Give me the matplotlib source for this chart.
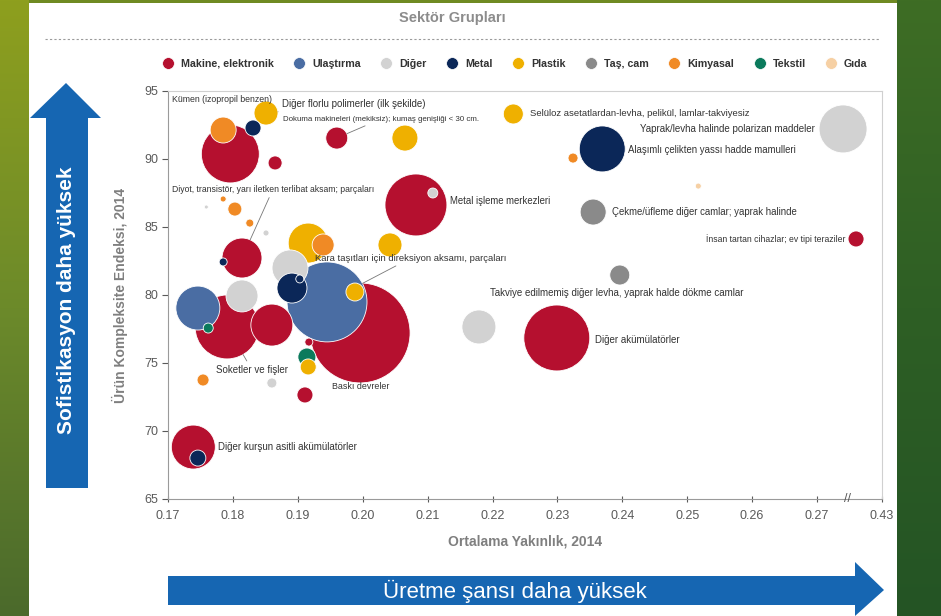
import matplotlib
matplotlib.use("Agg")
import matplotlib.pyplot as plt
import numpy as np
from matplotlib.lines import Line2D
from matplotlib.patches import Polygon, Rectangle

plt.rcParams['font.family'] = ['Liberation Sans', 'DejaVu Sans']

# sector groups and colours
sektorler = ["Makine, elektronik", "Ulaştırma", "Diğer", "Metal", "Plastik",
             "Taş, cam", "Kimyasal", "Tekstil", "Gıda"]
renkler = ["#b5102f", "#4a6da3", "#d2d2d2", "#0b2758", "#efb000",
           "#8a8a8a", "#f08a25", "#0b7a5c", "#f6d0a4"]

# products: sector, average proximity (x), complexity index (y), export volume (bubble area)
sektor = ["Makine, elektronik", "Kimyasal", "Metal", "Plastik", "Makine, elektronik",
          "Makine, elektronik", "Plastik", "Plastik", "Metal", "Kimyasal",
          "Diğer", "Gıda", "Taş, cam", "Makine, elektronik", "Makine, elektronik",
          "Diğer", "Diğer", "Kimyasal", "Kimyasal", "Kimyasal",
          "Diğer", "Makine, elektronik", "Metal", "Plastik", "Kimyasal",
          "Plastik", "Diğer", "Metal", "Metal", "Ulaştırma",
          "Makine, elektronik", "Ulaştırma", "Makine, elektronik", "Tekstil", "Diğer",
          "Makine, elektronik", "Plastik", "Makine, elektronik", "Tekstil", "Plastik",
          "Kimyasal", "Diğer", "Makine, elektronik", "Makine, elektronik", "Metal",
          "Diğer", "Makine, elektronik", "Taş, cam"]
yakinlik = [0.1796, 0.1785, 0.1831, 0.1851, 0.1865,
            0.1960, 0.2065, 0.2232, 0.2369, 0.2324,
            0.2740, 0.2517, 0.2355, 0.2760, 0.2082,
            0.2108, 0.1759, 0.1785, 0.1803, 0.1826,
            0.1851, 0.1814, 0.1785, 0.1916, 0.1939,
            0.2042, 0.1888, 0.1891, 0.1903, 0.1945,
            0.1996, 0.1746, 0.1791, 0.1762, 0.1814,
            0.1860, 0.1988, 0.1917, 0.1914, 0.1916,
            0.1754, 0.1860, 0.1911, 0.1739, 0.1746,
            0.2179, 0.2299, 0.2396]
kompleksite = [90.37, 92.13, 92.28, 93.38, 89.71,
               91.54, 91.54, 93.31, 90.74, 90.07,
               92.21, 88.01, 86.10, 84.12, 86.62,
               87.50, 86.47, 87.06, 86.32, 85.29,
               84.56, 82.72, 82.43, 83.82, 83.68,
               83.68, 81.99, 80.51, 81.18, 79.49,
               77.21, 79.04, 77.65, 77.57, 79.93,
               77.79, 80.22, 76.54, 75.44, 74.71,
               73.75, 73.53, 72.65, 68.82, 68.01,
               77.65, 76.84, 81.47]
hacim = [841, 169, 64, 144, 49,
         121, 169, 100, 529, 25,
         576, 9, 169, 64, 961,
         25, 4, 9, 49, 16,
         9, 400, 16, 400, 121,
         144, 324, 225, 16, 1600,
         2500, 484, 1024, 25, 256,
         441, 81, 16, 81, 64,
         36, 25, 64, 484, 64,
         289, 1089, 100]

x_ticks = [0.17, 0.18, 0.19, 0.20, 0.21, 0.22, 0.23, 0.24, 0.25, 0.26, 0.27, 0.28]
x_labels = ["0.17", "0.18", "0.19", "0.20", "0.21", "0.22", "0.23", "0.24",
            "0.25", "0.26", "0.27", "0.43"]
y_ticks = [65, 70, 75, 80, 85, 90, 95]

# product names shown on the chart, and the bubble each one points to (None = no leader)
etiket_metin = [
    "Kümen (izopropil benzen)",
    "Diğer florlu polimerler (ilk şekilde)",
    "Dokuma makineleri (mekiksiz); kumaş genişliği < 30 cm.",
    "Selüloz asetatlardan-levha, pelikül, lamlar-takviyesiz",
    "Yaprak/levha halinde polarizan maddeler",
    "Alaşımlı çelikten yassı hadde mamulleri",
    "Metal işleme merkezleri",
    "Çekme/üfleme diğer camlar; yaprak halinde",
    "İnsan tartan cihazlar; ev tipi teraziler",
    "Diyot, transistör, yarı iletken terlibat aksam; parçaları",
    "Kara taşıtları için direksiyon aksamı, parçaları",
    "Takviye edilmemiş diğer levha, yaprak halde dökme camlar",
    "Diğer akümülatörler",
    "Soketler ve fişler",
    "Baskı devreler",
    "Diğer kurşun asitli akümülatörler",
]
etiket_bubble = [None, 3, 5, None, None, None, None, None, None, 21, 29, None, None, 32, None, None]

# label placement (x, y, alignment, font size)
etiket_yer = [
    (0.1706, 94.34, "left", 6.3),
    (0.1876, 94.04, "left", 7.0),
    (0.1877, 92.94, "left", 5.7),
    (0.2258, 93.38, "left", 6.8),
    (0.2697, 92.21, "right", 7.0),
    (0.2409, 90.66, "left", 6.9),
    (0.2135, 86.91, "left", 6.9),
    (0.2384, 86.10, "left", 6.9),
    (0.2743, 84.12, "right", 6.2),
    (0.1706, 87.79, "left", 6.2),
    (0.1927, 82.72, "left", 6.8),
    (0.2196, 80.15, "left", 7.0),
    (0.2358, 76.69, "left", 7.0),
    (0.1774, 74.49, "left", 7.0),
    (0.1953, 73.24, "left", 6.4),
    (0.1777, 68.82, "left", 7.0),
]

W, H = 941, 616
fig = plt.figure(figsize=(W / 100, H / 100), dpi=100)

# background: white panel with green strips
bg = fig.add_axes([0, 0, 1, 1], zorder=0)
bg.axis("off")
grad = np.linspace(0, 1, 256).reshape(-1, 1)
left_cmap = matplotlib.colors.LinearSegmentedColormap.from_list("l", ["#8e9f1e", "#6c8a2a", "#4b6a2c"])
right_cmap = matplotlib.colors.LinearSegmentedColormap.from_list("r", ["#3e6d24", "#2e5f25", "#245424"])
bg.imshow(grad, extent=[0, 29, H, 0], cmap=left_cmap, aspect="auto")
bg.imshow(grad, extent=[897, W, H, 0], cmap=right_cmap, aspect="auto")
bg.add_patch(Rectangle((29, 0), 868, 3, color="#6f8a22", lw=0))
bg.set_xlim(0, W)
bg.set_ylim(H, 0)

# dashed separator under the legend title
bg.plot([45, 880], [39, 39], color="#9a9a9a", lw=0.8, ls=(0, (2, 2)))
bg.text(452, 18, "Sektör Grupları", ha="center", va="center", fontsize=10.5,
        fontweight="bold", color="#8c8c8c")

# blue arrows
mavi = "#1666b2"
bg.add_patch(Polygon([(46, 488), (46, 118), (30, 118), (66, 83), (101, 118),
                      (88, 118), (88, 488)], closed=True, color=mavi, lw=0))
bg.text(67, 300, "Sofistikasyon daha yüksek", rotation=90, ha="center", va="center",
        fontsize=15, fontweight="bold", color="white")
bg.add_patch(Polygon([(168, 576), (855, 576), (855, 562), (884, 590), (855, 616),
                      (855, 605), (168, 605)], closed=True, color=mavi, lw=0))
bg.text(515, 591, "Üretme şansı daha yüksek", ha="center", va="center",
        fontsize=16, color="white")

# main bubble chart
ax = fig.add_axes([168 / W, 1 - 499 / H, (882 - 168) / W, (499 - 91) / H], zorder=1)
renk_map = dict(zip(sektorler, renkler))
sira = np.argsort(hacim)[::-1]
ax.scatter(np.array(yakinlik)[sira], np.array(kompleksite)[sira],
           s=np.array(hacim)[sira] * 2.07,
           c=[renk_map[sektor[i]] for i in sira],
           edgecolors="white", linewidths=0.6, zorder=3)

for metin, idx, (tx, ty, ha, fs) in zip(etiket_metin, etiket_bubble, etiket_yer):
    if idx is None:
        ax.text(tx, ty, metin, ha=ha, va="center", fontsize=fs, color="#333333", zorder=4)
    else:
        r_pt = np.sqrt(hacim[idx]) * 0.72
        ax.annotate(metin, xy=(yakinlik[idx], kompleksite[idx]), xytext=(tx, ty),
                    ha=ha, va="center", fontsize=fs, color="#333333", zorder=4,
                    arrowprops=dict(arrowstyle="-", color="#777777", lw=0.6,
                                    shrinkA=1, shrinkB=r_pt))

ax.set_xlim(0.17, 0.28)
ax.set_ylim(65, 95)
ax.set_xticks(x_ticks)
ax.set_xticklabels(x_labels)
ax.set_yticks(y_ticks)
ax.tick_params(axis="both", labelsize=9, colors="#5a5a5a", length=4, width=0.8)
ax.tick_params(axis="x", direction="inout", pad=6)
ax.tick_params(axis="y", direction="out", pad=3)
for side in ["left", "bottom"]:
    ax.spines[side].set_color("#9a9a9a")
for side in ["top", "right"]:
    ax.spines[side].set_color("#d0d0d0")
ax.text(0.952, 0, "//", transform=ax.transAxes, ha="center", va="center",
        fontsize=9, color="#555555", zorder=5)
ax.set_xlabel("Ortalama Yakınlık, 2014", fontsize=10, fontweight="bold",
              color="#7f7f7f", labelpad=9)
ax.set_ylabel("Ürün Kompleksite Endeksi, 2014", fontsize=10, fontweight="bold",
              color="#7f7f7f", labelpad=12)

handles = [Line2D([], [], marker="o", ls="", markersize=8.5, markerfacecolor=c,
                  markeredgecolor="white", markeredgewidth=0.5) for c in renkler]
fig.legend(handles, sektorler, loc="center", bbox_to_anchor=(515 / W, 1 - 64 / H),
           ncol=9, frameon=False, handletextpad=0.7, columnspacing=1.9,
           handlelength=1.0, prop=dict(size=7.7, weight="bold"), labelcolor="#333333")

fig.savefig("out.png", dpi=100)
